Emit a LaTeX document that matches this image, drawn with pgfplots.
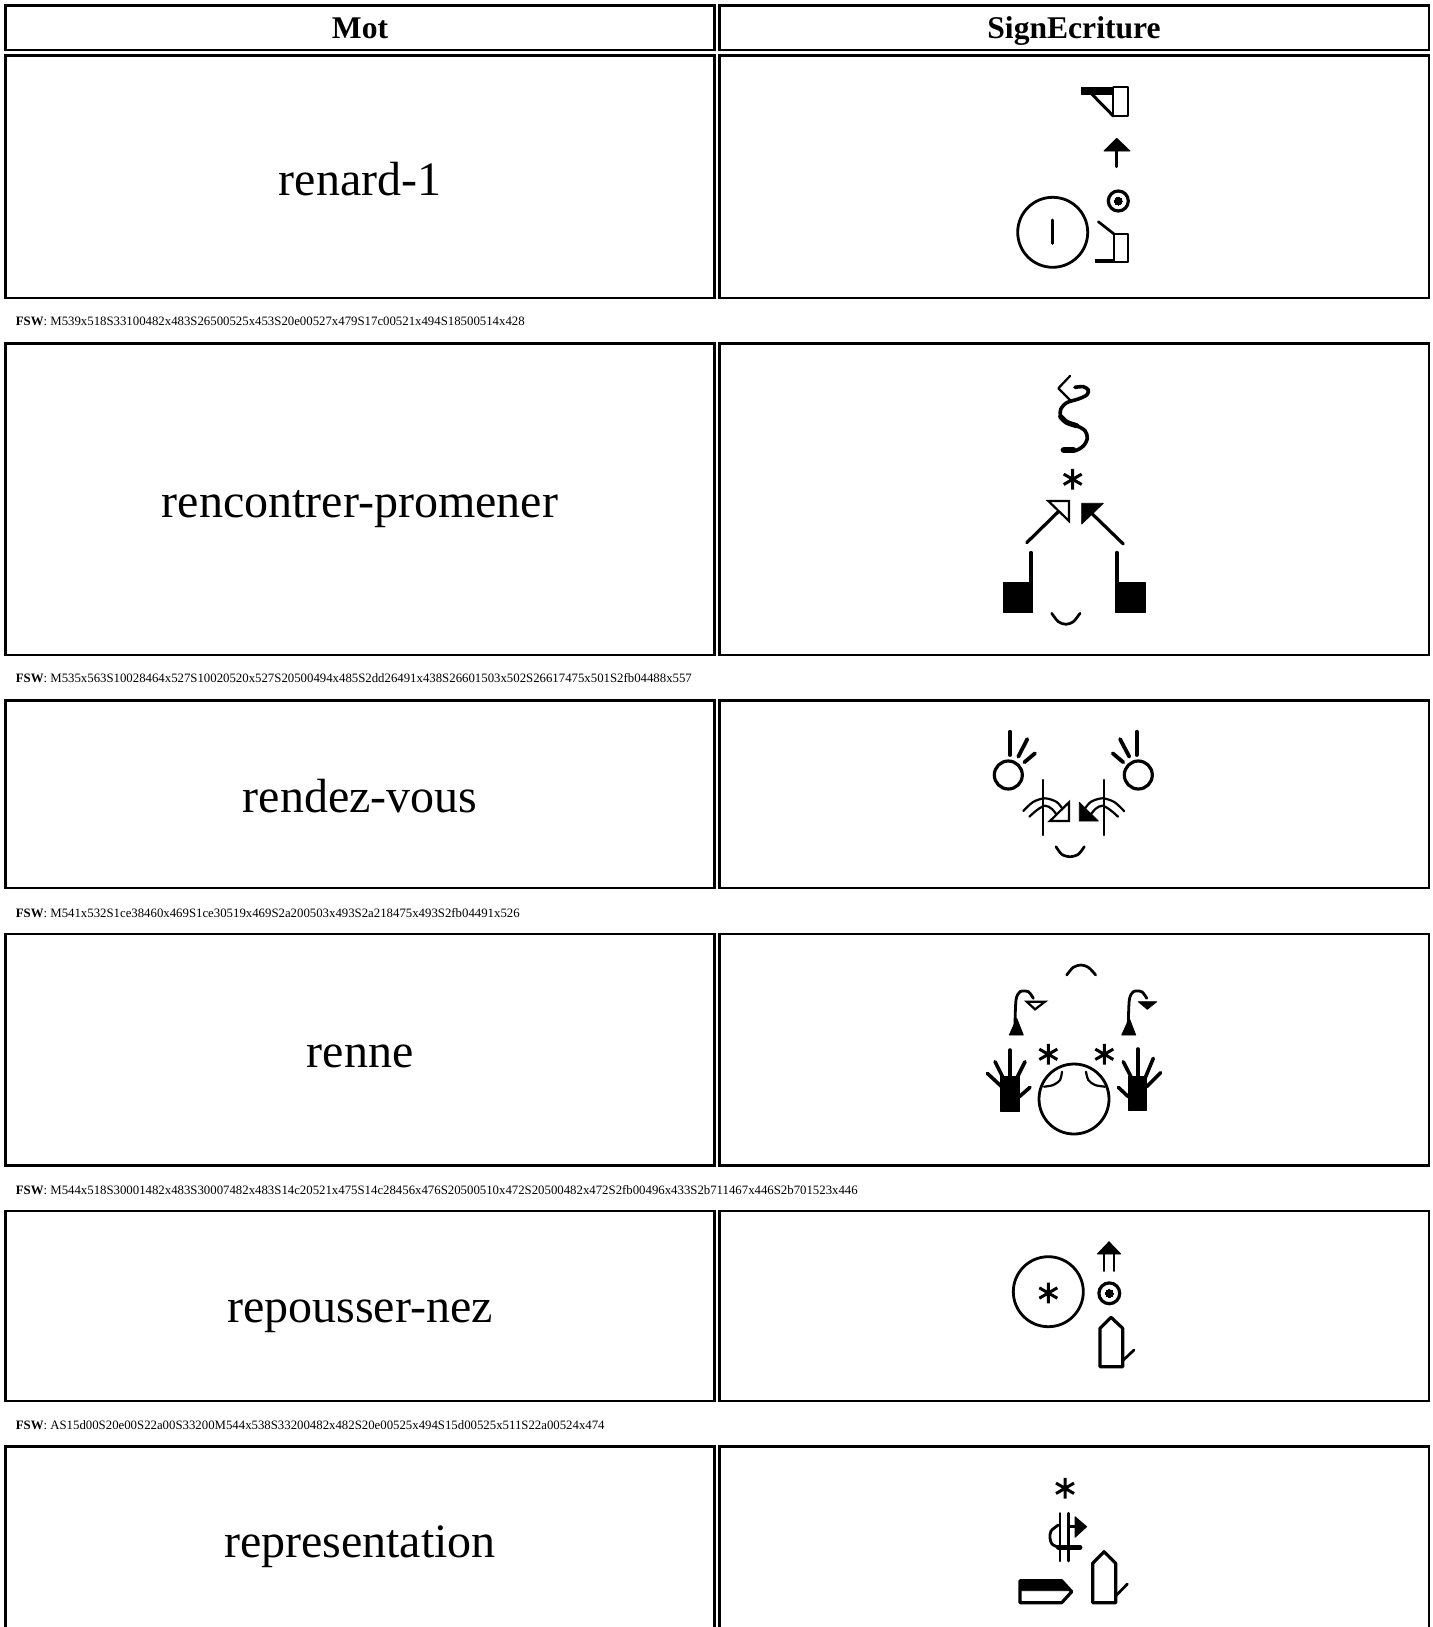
\documentclass[border=0pt]{standalone}
\usepackage{pgfplots}
\pgfplotsset{compat=1.18}
\usepackage{fontspec}
\setmainfont{Liberation Serif}
\newcommand\Ln[2][1.35pt]{\addplot[black,line width=#1,line cap=round,line join=round] coordinates {#2};}
\newcommand\Sm[2][1.35pt]{\addplot[black,smooth,line width=#1,line cap=round] coordinates {#2};}
\newcommand\Fk[1]{\addplot[fill=black,draw=black,line width=.4pt,line join=round] coordinates {#1} --cycle;}
\newcommand\Wt[1]{\addplot[fill=white,draw=black,line width=1.1pt,line join=miter] coordinates {#1} --cycle;}
\newcommand\Ci[3][1.4pt]{\addplot[only marks,mark=o,mark size=#3pt,mark options={line width=#1,draw=black}] coordinates {#2};}
\newcommand\Dt[2]{\addplot[only marks,mark=*,mark size=#2pt,mark options={draw=black,fill=black,line width=0pt}] coordinates {#1};}
\newcommand\As[1]{\addplot[only marks,mark=asterisk,mark size=5.2pt,mark options={line width=1.5pt,draw=black}] coordinates {#1};}
\newcommand\Bx[4]{\addplot[draw=black,line width=1.2pt,line join=miter] coordinates {(#1,#3) (#2,#3) (#2,#4) (#1,#4)} --cycle;}
\newcommand\Wd[2]{\node[font=\fontsize{24}{26}\selectfont,inner sep=0pt,anchor=base] at (axis cs:360,#1) {#2};}
\newcommand\Fs[2]{\node[font=\fontsize{6.4}{7}\selectfont,inner sep=0pt,anchor=base west] at (axis cs:15.5,#1) {\textbf{FSW}: #2};}
\begin{document}
\begin{tikzpicture}
\begin{axis}[
  scale only axis,width=716.5pt,height=813.5pt,
  xmin=0,xmax=1433,ymin=0,ymax=1627,y dir=reverse,
  axis line style={draw=none},tick style={draw=none},
  xtick=\empty,ytick=\empty]
% table frames
\Bx{5.5}{714.5}{5.5}{50}\Bx{719.5}{1429}{5.5}{50}
\Bx{5.5}{714.5}{55.5}{298}\Bx{719.5}{1429}{55.5}{298}
\Bx{5.5}{714.5}{343.5}{655}\Bx{719.5}{1429}{343.5}{655}
\Bx{5.5}{714.5}{700.5}{888}\Bx{719.5}{1429}{700.5}{888}
\Bx{5.5}{714.5}{934}{1165.5}\Bx{719.5}{1429}{934}{1165.5}
\Bx{5.5}{714.5}{1211}{1401}\Bx{719.5}{1429}{1211}{1401}
\Bx{5.5}{714.5}{1446.5}{1650}\Bx{719.5}{1429}{1446.5}{1650}
% text
\node[font=\fontsize{15.8}{17}\selectfont\bfseries,inner sep=0pt,anchor=base] at (axis cs:360,38.5) {Mot};
\node[font=\fontsize{15.8}{17}\selectfont\bfseries,inner sep=0pt,anchor=base] at (axis cs:1074,38.5) {SignEcriture};
\Wd{195}{renard-1}
\Wd{517}{rencontrer-promener}
\Wd{812.4}{rendez-vous}
\Wd{1067}{renne}
\Wd{1322.6}{repousser-nez}
\Wd{1557}{representation}
\Fs{325.5}{M539x518S33100482x483S26500525x453S20e00527x479S17c00521x494S18500514x428}
\Fs{682.5}{M535x563S10028464x527S10020520x527S20500494x485S2dd26491x438S26601503x502S26617475x501S2fb04488x557}
\Fs{917}{M541x532S1ce38460x469S1ce30519x469S2a200503x493S2a218475x493S2fb04491x526}
\Fs{1194}{M544x518S30001482x483S30007482x483S14c20521x475S14c28456x476S20500510x472S20500482x472S2fb00496x433S2b711467x446S2b701523x446}
\Fs{1429}{AS15d00S20e00S22a00S33200M544x538S33200482x482S20e00525x494S15d00525x511S22a00524x474}
% glyph 1
\Fk{(1081,87.3)(1113.3,87.3)(1113.3,94)(1081,94)}
\Ln[1pt]{(1113.3,87.3)(1128.3,87.3)(1128.3,116)(1113.3,116)(1113.3,87.3)}
\Ln[1.5pt]{(1091.7,94)(1113.3,116)}
\Ln[1.5pt]{(1116.7,150)(1116.7,166.7)}
\Fk{(1104,151)(1116.7,138.3)(1130,151)}
\Ci[1.6pt]{(1118.3,201)}{5}\Dt{(1118.3,201)}{2}
\Ci{(1052.7,232.3)}{17.5}
\Ln[1.5pt]{(1052.7,220)(1052.7,243.3)}
\Ln{(1098.3,221.7)(1114,234)}
\Ln[1pt]{(1114,234)(1127.7,234)(1127.7,262.3)(1114,262.3)(1114,234)}
\Fk{(1095.7,259.3)(1114,259.3)(1114,262.7)(1095.7,262.7)}
% glyph 2
\Sm[1.8pt]{(1063.3,450.7)(1075,450.7)(1083.3,446)(1087.3,438.3)(1085,430.7)(1076.7,425.7)(1066.7,422.3)(1060.7,416.7)(1060.7,409.3)(1066.7,402.7)(1078.3,399)(1086.7,395)(1088.3,390)(1083.3,386.7)(1075,387.3)}
\Ln[3.4pt]{(1064,450)(1073,450)}
\Sm[2.6pt]{(1076.7,425.7)(1066.7,422.3)(1060.7,416.7)}
\Ln[1.1pt]{(1070,376)(1058.3,388.3)(1070,400)}
\As{(1072.7,479.3)}
\Ln[1.6pt]{(1026.7,542.7)(1058,512)}
\Wt{(1048.3,501)(1069,501)(1069,521)}
\Ln[1.6pt]{(1123.3,544)(1090,511.7)}
\Fk{(1081.7,503.3)(1103.3,503.3)(1081.7,524)}
\Fk{(1003.3,582.7)(1032.7,582.7)(1032.7,612.3)(1003.3,612.3)}
\Ln[1.9pt]{(1031,552.7)(1031,582.7)}
\Fk{(1115,582.7)(1145,582.7)(1145,612.3)(1115,612.3)}
\Ln[1.9pt]{(1116.7,552.7)(1116.7,582.7)}
\Sm{(1051.7,613.3)(1058.3,621.7)(1066,624.3)(1073.3,621.7)(1080,613.3)}
% glyph 3
\Ci[1.6pt]{(1008.3,775)}{7}
\Ln[1.9pt]{(1010,731.7)(1010,755)}
\Ln[1.9pt]{(1027.3,739)(1018.3,756.7)}
\Ln[1.9pt]{(1035,753.3)(1024.3,762.3)}
\Ci[1.6pt]{(1138.3,775)}{7}
\Ln[1.9pt]{(1136.7,731.7)(1136.7,755)}
\Ln[1.9pt]{(1120,739)(1129.3,756.7)}
\Ln[1.9pt]{(1112.7,753.3)(1123.3,762.3)}
\Ln[1.1pt]{(1043.3,780)(1043.3,835)}
\Sm[1.1pt]{(1023.3,811)(1033,802)(1045,798.3)(1056.7,802)(1063.3,810)}
\Sm[1.1pt]{(1029.3,816.7)(1037,810)(1045,805.7)(1052,809)(1058.3,817)}
\Wt{(1069,802.3)(1069,821)(1050,821)}
\Ln[1.1pt]{(1104,780)(1104,835)}
\Sm[1.1pt]{(1124,811)(1114.3,802)(1102.3,798.3)(1090.6,802)(1084,810)}
\Sm[1.1pt]{(1118,816.7)(1110.3,810)(1102.3,805.7)(1095.3,809)(1089,817)}
\Fk{(1079.3,802.3)(1079.3,821)(1098.3,821)}
\Sm{(1056,846.7)(1061.7,854.3)(1070,856.7)(1078.3,854.3)(1084.3,846.7)}
% glyph 4
\Sm{(1066.7,975)(1073.3,967.3)(1081,965)(1088.3,967.3)(1095.7,975)}
\Sm[1.4pt]{(1015,1025)(1016,1000)(1020,991.7)(1028.3,991.7)(1033.3,998.3)}
\Fk{(1009.3,1035)(1023.3,1035)(1016.7,1018.3)}
\Wt{(1026.7,1001.7)(1045,1001.7)(1035,1009.3)}
\Sm[1.4pt]{(1128.3,1025)(1129.3,1000)(1133.3,991.7)(1141.7,991.7)(1146.7,998.3)}
\Fk{(1121.7,1035)(1135.7,1035)(1129.3,1018.3)}
\Fk{(1138.3,1001.7)(1156.7,1001.7)(1147.3,1009.3)}
\As{(1048.3,1054.3)}
\As{(1104.3,1054.3)}
\Ci{(1074,1099)}{17.5}
\Sm[1.1pt]{(1044,1086.7)(1053.3,1085)(1060,1080)(1062,1071.7)}
\Sm[1.1pt]{(1086,1071.7)(1088.3,1080)(1095,1085)(1105,1086.7)}
\Fk{(1000.7,1076.7)(1019.3,1076.7)(1019.3,1111.7)(1000.7,1111.7)}
\Ln[1.8pt]{(1010,1050)(1010,1076.7)}
\Ln[1.8pt]{(995,1061.7)(1003.3,1078.3)}
\Ln[1.8pt]{(1025,1061.7)(1016.7,1078.3)}
\Ln[1.8pt]{(987.3,1073.3)(1001.7,1086.7)}
\Ln[1.8pt]{(1030,1087.3)(1019.3,1096.7)}
\Fk{(1128.3,1076.7)(1146.7,1076.7)(1146.7,1110)(1128.3,1110)}
\Ln[1.8pt]{(1137.7,1049)(1137.7,1076.7)}
\Ln[1.8pt]{(1123.3,1061.7)(1131.7,1078.3)}
\Ln[1.8pt]{(1153.3,1058.3)(1145,1078.3)}
\Ln[1.8pt]{(1160.7,1072.7)(1146.7,1086.7)}
\Ln[1.8pt]{(1118.3,1087.3)(1128.3,1096.7)}
% glyph 5
\Ln[1.4pt]{(1104,1254)(1104,1270.7)}
\Ln[1.4pt]{(1114,1254)(1114,1270.7)}
\Fk{(1097.3,1254)(1120.7,1254)(1109,1241.7)}
\Ci[1.6pt]{(1109.3,1293.3)}{5.2}\Dt{(1109.3,1293.3)}{2}
\Ci{(1048.3,1291.7)}{17.5}
\As{(1048.3,1293)}
\Ln[1.6pt]{(1100,1366.7)(1100,1328.3)(1111,1317.3)(1122.7,1328.3)(1122.7,1366.7)(1100,1366.7)}
\Ln{(1122.7,1360.7)(1134,1350)}
% glyph 6
\As{(1065,1488.3)}
\Ln[1.3pt]{(1060,1513.3)(1060,1561)}
\Ln[1.3pt]{(1068.3,1513.3)(1068.3,1561)}
\Sm[1.4pt]{(1058.3,1525)(1051,1531)(1050,1538)(1052,1544)(1058.3,1547.3)}
\Ln[2.4pt]{(1058.3,1547.3)(1080,1547.3)}
\Ln[1.3pt]{(1068.3,1526.7)(1075,1526.7)}
\Fk{(1075,1516.7)(1086.7,1526.7)(1075,1537.3)}
\Ln[1.6pt]{(1020,1580.7)(1061.7,1580.7)(1071.7,1591.7)(1061.7,1602.7)(1020,1602.7)(1020,1580.7)}
\Fk{(1020,1580.7)(1061.7,1580.7)(1070,1590.7)(1020,1590.7)}
\Ln[1.6pt]{(1092.7,1602.7)(1092.7,1563.3)(1104,1551.7)(1115.7,1563.3)(1115.7,1602.7)(1092.7,1602.7)}
\Ln{(1115.7,1596)(1127.3,1584)}
\end{axis}
\end{tikzpicture}
\end{document}
